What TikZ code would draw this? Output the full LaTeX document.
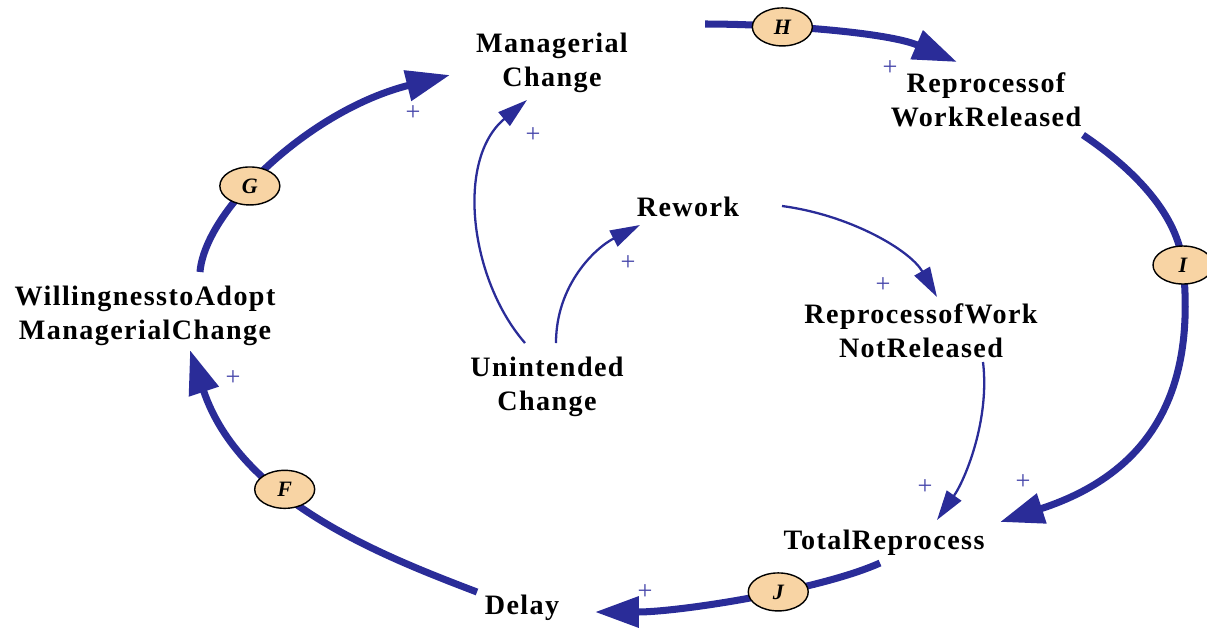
\documentclass[tikz,border=0pt]{standalone}
\usepackage{fontspec}
\setmainfont{Liberation Serif}[LetterSpace=5]
\usepackage{xcolor}
\usetikzlibrary{shapes,arrows.meta}
\definecolor{loopblue}{RGB}{42,44,152}
\definecolor{ovalfill}{RGB}{248,212,164}
\definecolor{signblue}{RGB}{70,70,170}

\begin{document}
\begin{tikzpicture}[x=0.02cm,y=-0.02cm,
    factor/.style={align=center,inner sep=0pt,
        font=\fontsize{16}{19.5}\selectfont\bfseries},
    flow/.style={draw=loopblue,line width=4pt,
        -{Triangle[length=25pt,width=17pt]}},
    link/.style={draw=loopblue,line width=1.3pt,
        -{Triangle[length=17pt,width=10pt]}},
    oval/.style={ellipse,draw=black,line width=0.8pt,fill=ovalfill,
        minimum width=1.2cm,minimum height=0.76cm,inner sep=0pt,
        font=\fontsize{12.5}{12.5}\selectfont\bfseries\itshape},
    sign/.style={text=signblue,inner sep=0pt,
        font=\fontsize{15}{15}\selectfont}]

    \useasboundingbox (0,0) rectangle (1207,627);

    \node[factor] (mc) at (552,63) {Managerial\\Change};
    \node[factor] (rwr) at (986,100) {Reprocessof\\WorkReleased};
    \node[factor] (rw) at (688,207) {Rework};
    \node[factor] (rnr) at (921,331) {ReprocessofWork\\NotReleased};
    \node[factor] (wil) at (145,316) {WillingnesstoAdopt\\ManagerialChange};
    \node[factor] (uc) at (547,387) {Unintended\\Change};
    \node[factor] (tr) at (884,543) {TotalReprocess};
    \node[factor] (dl) at (522,608) {Delay};

    % outer loop
    \draw[flow] ([shift={(153,-39)}]mc.center)
        .. controls +(70,0) and +(-70,-30) ..
        ([shift={(-29,-38)}]rwr.center) node[oval,pos=0.32] (oh) {H};
    \draw[flow] ([shift={(97,35)}]rwr.center)
        .. controls +(52,35) and +(-5,-50) ..
        ([shift={(197,165)}]rwr.center) node[oval] (oi) {I}
        .. controls +(12,115) and +(160,-52) ..
        ([shift={(116,-21)}]tr.center);
    \draw[flow] ([shift={(-4,20)}]tr.center)
        .. controls +(-60,27) and +(85,0) ..
        ([shift={(73,4)}]dl.center) node[oval,pos=0.4] (oj) {J};
    \draw[flow] ([shift={(-45,-16)}]dl.center)
        .. controls +(-97,-37) and +(50,150) ..
        ([shift={(45,34)}]wil.center) node[oval,pos=0.6] (of) {F};
    \draw[flow] ([shift={(55,-44)}]wil.center)
        .. controls +(5,-62) and +(-140,35) ..
        ([shift={(-102,12)}]mc.center) node[oval,pos=0.4] (og) {G};

    % inner links
    \draw[link] ([shift={(-22,-44)}]uc.center)
        .. controls +(-55,-63) and +(-72,60) .. ([shift={(-25,37)}]mc.center);
    \draw[link] ([shift={(9,-44)}]uc.center)
        .. controls +(0,-58) and +(-45,23) .. ([shift={(-48,18)}]rw.center);
    \draw[link] ([shift={(94,-1)}]rw.center)
        .. controls +(68,9) and +(-27,-47) .. ([shift={(16,-34)}]rnr.center);
    \draw[link] ([shift={(62,31)}]rnr.center)
        .. controls +(7,58) and +(28,-40) .. ([shift={(53,-23)}]tr.center);

    % polarity signs
    \node[sign] (sh) at (890,68) {+};
    \node[sign] (si) at (1023,482) {+};
    \node[sign] (sj) at (645,592) {+};
    \node[sign] (sf) at (233,378) {+};
    \node[sign] (sg) at (413,113) {+};
    \node[sign] (sucmc) at (533,135) {+};
    \node[sign] (sucrw) at (628,263) {+};
    \node[sign] (srwrnr) at (883,285) {+};
    \node[sign] (srnrtr) at (925,487) {+};
\end{tikzpicture}
\end{document}
